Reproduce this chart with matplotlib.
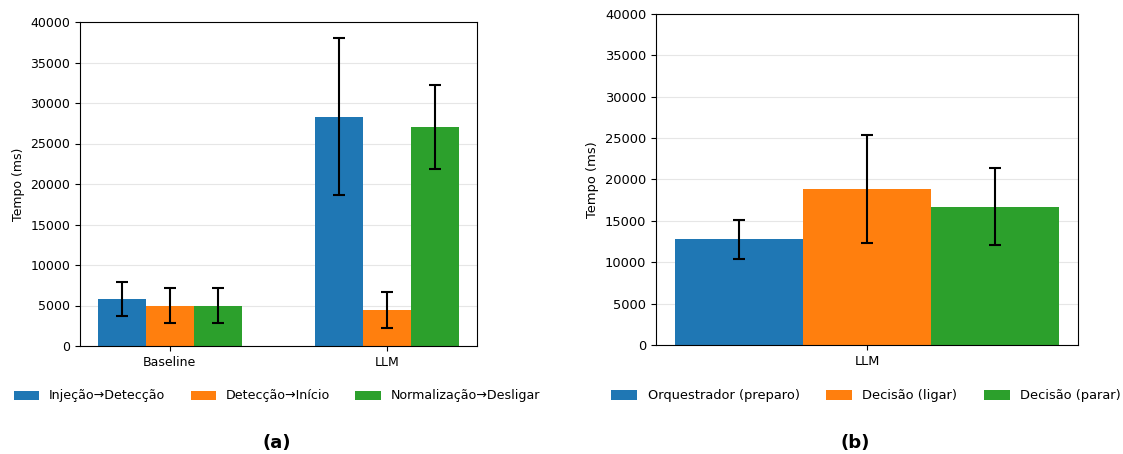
import matplotlib
matplotlib.use("Agg")
import matplotlib.pyplot as plt
import numpy as np

plt.rcParams["font.size"] = 9

# Panel (a)
groups_a = ["Baseline", "LLM"]
series_a = ["Injeção→Detecção", "Detecção→Início", "Normalização→Desligar"]
means_a = [[5800, 28300], [5000, 4450], [5000, 27000]]
errs_a = [[2150, 9700], [2150, 2200], [2150, 5200]]

# Panel (b)
groups_b = ["LLM"]
series_b = ["Orquestrador (preparo)", "Decisão (ligar)", "Decisão (parar)"]
means_b = [12750, 18850, 16700]
errs_b = [2300, 6550, 4650]

colors = ["#1f77b4", "#ff7f0e", "#2ca02c"]

fig = plt.figure(figsize=(11.23, 4.54), dpi=100)

ax1 = fig.add_axes([80/1123, 108/454, 397/1123, 324/454])
x = np.arange(len(groups_a))
w = 0.22
for i, (lab, m, e) in enumerate(zip(series_a, means_a, errs_a)):
    ax1.bar(x + (i - 1) * w, m, w, yerr=e, capsize=4, color=colors[i], label=lab,
            error_kw=dict(elinewidth=1.5, capthick=1.5, ecolor="black"))
ax1.set_xticks(x)
ax1.set_xticklabels(groups_a)
ax1.set_ylim(0, 40000)
ax1.set_ylabel("Tempo (ms)")
ax1.grid(axis="y", color="#e6e6e6", linewidth=0.8)
ax1.set_axisbelow(True)
h1, l1 = ax1.get_legend_handles_labels()
fig.legend(h1, l1, loc="center", bbox_to_anchor=(277/1123, 1 - 396/454), ncol=3,
           frameon=False, fontsize=9.1, handlelength=2.0, handleheight=0.7,
           columnspacing=2.0)

fs_b = 9.4
ax2 = fig.add_axes([656/1123, 109/454, 422/1123, 331/454])
xb = np.arange(len(groups_b))
wb = 0.25
for i, (lab, m, e) in enumerate(zip(series_b, means_b, errs_b)):
    ax2.bar(xb + (i - 1) * wb, [m], wb, yerr=[e], capsize=4, color=colors[i], label=lab,
            error_kw=dict(elinewidth=1.5, capthick=1.5, ecolor="black"))
ax2.set_xticks(xb)
ax2.set_xticklabels(groups_b)
ax2.set_ylim(0, 40000)
ax2.set_ylabel("Tempo (ms)", fontsize=fs_b)
ax2.tick_params(labelsize=fs_b)
ax2.grid(axis="y", color="#e6e6e6", linewidth=0.8)
ax2.set_axisbelow(True)
h2, l2 = ax2.get_legend_handles_labels()
fig.legend(h2, l2, loc="center", bbox_to_anchor=(866/1123, 1 - 396/454), ncol=3,
           frameon=False, fontsize=fs_b, handlelength=2.0, handleheight=0.7,
           columnspacing=2.0)

fig.text(277/1123, 1 - 443/454, "(a)", ha="center", va="center", fontsize=13, fontweight="bold")
fig.text(855/1123, 1 - 443/454, "(b)", ha="center", va="center", fontsize=13, fontweight="bold")

fig.savefig("out.png", dpi=100)
